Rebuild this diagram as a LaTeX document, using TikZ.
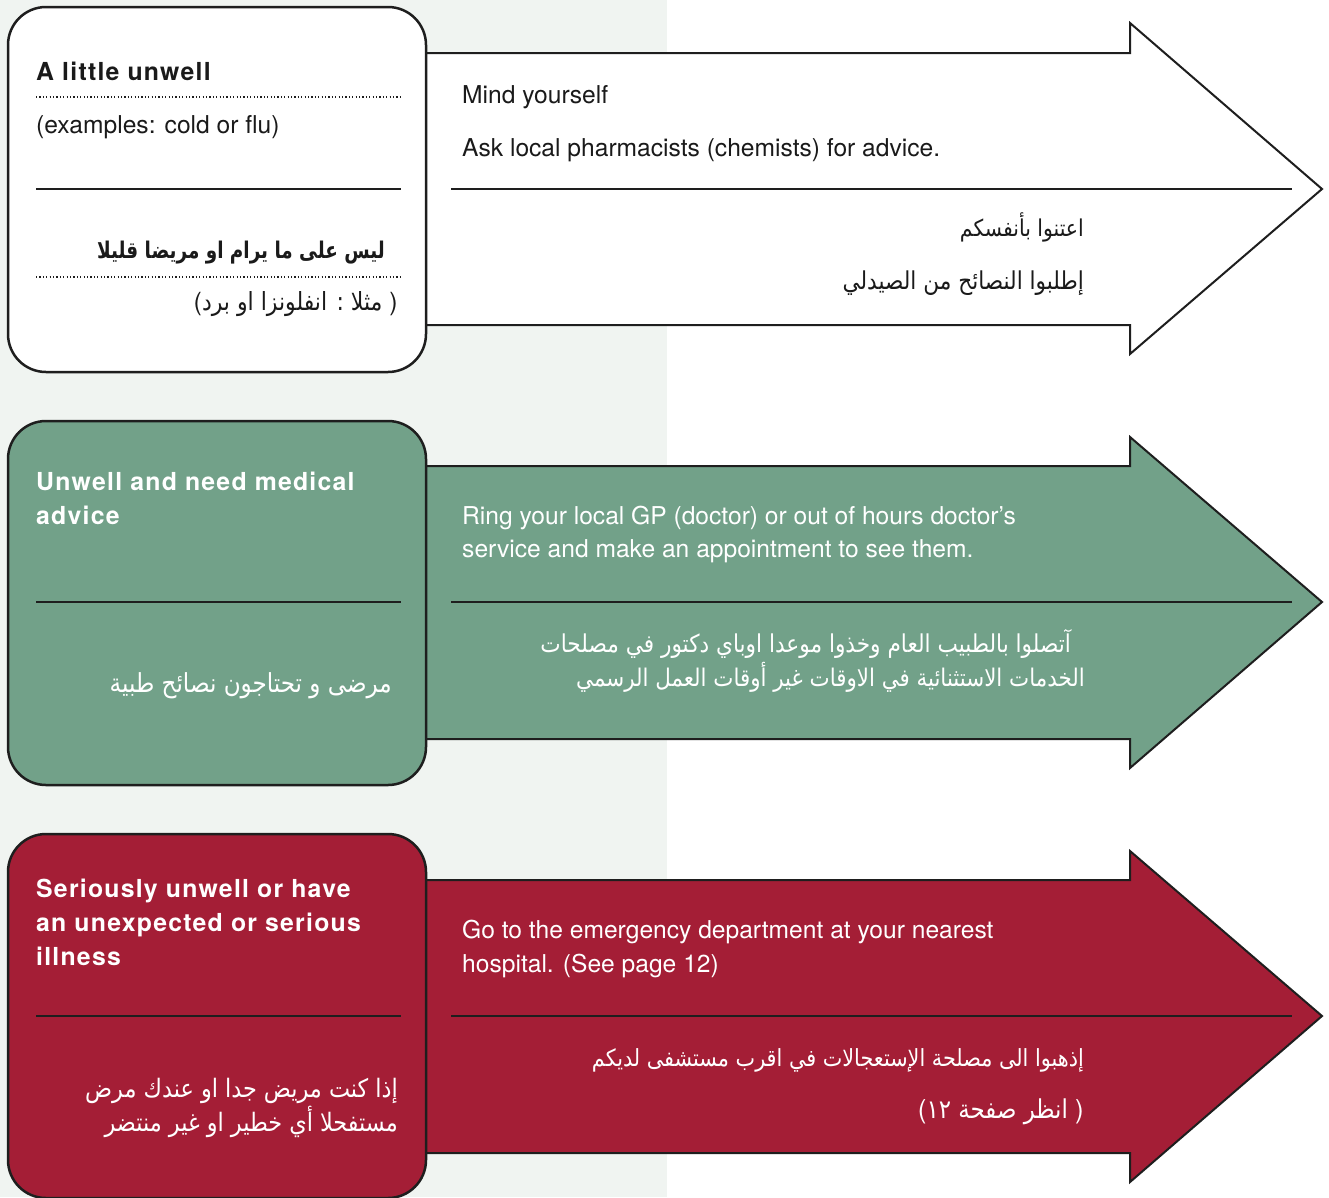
\documentclass[tikz,border=0pt]{standalone}
\usepackage{fontspec}
\setmainfont{TeX Gyre Heros}
\newfontfamily\headfont[LetterSpace=5]{TeX Gyre Heros}
\newfontfamily\arabicfont[Script=Arabic,FakeStretch=0.88]{DejaVu Sans}
\newfontfamily\arabicbold[Script=Arabic,FakeStretch=0.8]{DejaVu Sans Bold}
\TeXXeTstate=1
\newcommand\myLP{{\rmfamily(}}
\newcommand\myRP{{\rmfamily)}}
\definecolor{bgc}{HTML}{F0F4F1}
\definecolor{greenc}{HTML}{72A189}
\definecolor{redc}{HTML}{A41E36}
\definecolor{linec}{HTML}{1E1E1E}
\definecolor{txtc}{HTML}{1A1A1A}
\tikzset{
  shapeline/.style={draw=linec, line width=2pt, line join=miter},
  boxshape/.style={draw=linec, line width=2.5pt, rounded corners=38pt},
  sepline/.style={draw=linec, line width=2pt},
  dotline/.style={draw=linec, line width=1.5pt, dash pattern=on 1.2pt off 2.2pt},
  lbl/.style={inner sep=0pt, anchor=base west, font=\fontsize{24.6}{30}\selectfont},
  hd/.style={inner sep=0pt, anchor=base west, font=\headfont\bfseries\fontsize{24.8}{30}\selectfont},
  ar/.style={inner sep=0pt, anchor=base east, font=\arabicfont\fontsize{#1}{26}\selectfont},
  ar/.default=24,
  arb/.style={inner sep=0pt, anchor=base east, font=\arabicbold\fontsize{23}{26}\selectfont},
}
\begin{document}
\begin{tikzpicture}[x=1pt,y=-1pt]
\useasboundingbox (0,0) rectangle (1329,1197);
\fill[white] (0,0) rectangle (1329,1197);
\fill[bgc] (0,0) rectangle (667,1197);

% ---------- Row 1 ----------
\draw[shapeline, fill=white] (420,53) -- (1130,53) -- (1130,23) -- (1322,189) -- (1130,354) -- (1130,325) -- (420,325) -- cycle;
\draw[boxshape, fill=white] (8,7) rectangle (426,372);
\node[hd, text=txtc] (h1) at (36,80) {A little unwell};
\draw[dotline] (36,97) -- (400,97);
\node[lbl, text=txtc] (e1) at (36,133) {(examples: cold or flu)};
\draw[sepline] (36,189) -- (401,189);
\node[arb, text=txtc] (a1) at (385,258) {\beginR ليس على ما يرام او مريضا قليلا\endR};
\draw[dotline] (36,277) -- (400,277);
\node[ar=25, text=txtc] (a1b) at (398,310) {\myLP\beginR مثلا : انفلونزا او برد\endR\ \myRP};
\node[lbl, text=txtc] (t1a) at (462,103) {Mind yourself};
\node[lbl, text=txtc] (t1b) at (462,156) {Ask local pharmacists (chemists) for advice.};
\draw[sepline] (451,189) -- (1292,189);
\node[ar=23.2, text=txtc] (r1a) at (1084,236) {\beginR اعتنوا بأنفسكم\endR};
\node[ar=24.6, text=txtc] (r1b) at (1084,289) {\beginR إطلبوا النصائح من الصيدلي\endR};

% ---------- Row 2 ----------
\draw[shapeline, fill=greenc] (420,466) -- (1130,466) -- (1130,437) -- (1322,602) -- (1130,768) -- (1130,739) -- (420,739) -- cycle;
\draw[boxshape, fill=greenc] (8,421) rectangle (426,785);
\node[hd, text=white] (h2a) at (36,490) {Unwell and need medical};
\node[hd, text=white] (h2b) at (36,524) {advice};
\draw[sepline] (36,602) -- (401,602);
\node[ar=26.2, text=white] (a2) at (392,692) {\beginR مرضى و تحتاجون نصائح طبية\endR};
\node[lbl, text=white] (t2a) at (462,524) {Ring your local GP (doctor) or out of hours doctor’s};
\node[lbl, text=white] (t2b) at (462,557) {service and make an appointment to see them.};
\draw[sepline] (451,602) -- (1292,602);
\node[ar=24.6, text=white] (r2a) at (1071,652) {\beginR آتصلوا بالطبيب العام وخذوا موعدا اوباي دكتور في مصلحات\endR};
\node[ar=24.3, text=white] (r2b) at (1085,686) {\beginR الخدمات الاستثنائية في الاوقات غير أوقات العمل الرسمي\endR};

% ---------- Row 3 ----------
\draw[shapeline, fill=redc] (420,880) -- (1130,880) -- (1130,851) -- (1322,1016) -- (1130,1182) -- (1130,1153) -- (420,1153) -- cycle;
\draw[boxshape, fill=redc] (8,834) rectangle (426,1198);
\node[hd, text=white] (h3a) at (36,897) {Seriously unwell or have};
\node[hd, text=white] (h3b) at (36,931) {an unexpected or serious};
\node[hd, text=white] (h3c) at (36,965) {illness};
\draw[sepline] (36,1016) -- (401,1016);
\node[ar=25.4, text=white] (a3a) at (398,1097) {\beginR إذا كنت مريض جدا او عندك مرض\endR};
\node[ar=25.4, text=white] (a3b) at (398,1131) {\beginR مستفحلا أي خطير او غير منتضر\endR};
\node[lbl, text=white] (t3a) at (462,938) {Go to the emergency department at your nearest};
\node[lbl, text=white] (t3b) at (462,972) {hospital. (See page 12)};
\draw[sepline] (451,1016) -- (1292,1016);
\node[ar=23.6, text=white] (r3a) at (1084,1066) {\beginR إذهبوا الى مصلحة الإستعجالات في اقرب مستشفى لديكم\endR};
\node[ar=26, text=white] (r3b) at (1084,1118) {\myLP\beginR انظر صفحة ١٢\endR\ \myRP};
\end{tikzpicture}
\end{document}
